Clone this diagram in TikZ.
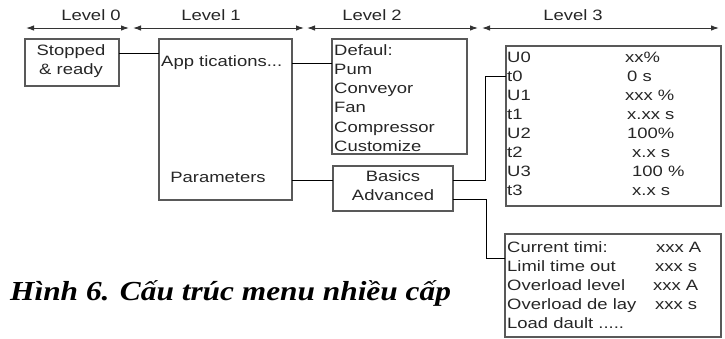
\documentclass[tikz,border=0pt]{standalone}
\usepackage{fontspec}
\setmainfont{Liberation Sans}
\newfontfamily\boxfont[FakeStretch=1.23]{Liberation Sans}
\newfontfamily\capfont[FakeStretch=1.14]{Liberation Serif}
\usetikzlibrary{arrows.meta}
\begin{document}
\begin{tikzpicture}[x=1pt,y=-1pt,
  box/.style={draw=black!65, line width=1.3pt, anchor=north west, inner sep=0pt, outer sep=0pt},
  txt/.style={font=\boxfont\fontsize{15}{19}\selectfont, text=black!85, inner sep=0pt},
  lt/.style={txt, anchor=base west},
  ct/.style={txt, anchor=base},
  conn/.style={draw=black, line width=0.9pt},
  lvl/.style={draw=black!80, line width=1pt, {Latex[length=8pt,width=5.5pt]}-{Latex[length=8pt,width=5.5pt]}}]
\useasboundingbox (0,0) rectangle (725,338);

% level arrows
\coordinate (a0l) at (26,28);  \coordinate (a0r) at (129,28);
\coordinate (a1l) at (133,28); \coordinate (a1r) at (304,28);
\coordinate (a2l) at (307,28); \coordinate (a2r) at (478,28);
\coordinate (a3l) at (482,28); \coordinate (a3r) at (719,28);
\draw[lvl] (a0l) -- (a0r);
\draw[lvl] (a1l) -- (a1r);
\draw[lvl] (a2l) -- (a2r);
\draw[lvl] (a3l) -- (a3r);
\node[ct] (lv0) at (91,20) {Level 0};
\node[ct] (lv1) at (211,20) {Level 1};
\node[ct] (lv2) at (372,20) {Level 2};
\node[ct] (lv3) at (573,20) {Level 3};

% boxes
\node[box, minimum width=94, minimum height=47] (stop) at (25,39) {};
\node[box, minimum width=133, minimum height=161] (app) at (159,39) {};
\node[box, minimum width=135, minimum height=115] (def) at (332,39) {};
\node[box, minimum width=120, minimum height=45] (bas) at (333,166) {};
\node[box, minimum width=215, minimum height=160] (l3) at (506,46) {};
\node[box, minimum width=216, minimum height=103] (adv) at (505,234) {};

% level 0 / 1 / 2 texts
\node[ct] (s1) at (71,55) {Stopped};
\node[ct] (s2) at (71,74) {\& ready};
\node[lt] (ap) at (161,66) {App tications...};
\node[ct] (pa) at (218,182) {Parameters};
\node[lt] (d1) at (334,55) {Defaul:};
\node[lt] (d2) at (334,74) {Pum};
\node[lt] (d3) at (334,93) {Conveyor};
\node[lt] (d4) at (334,112) {Fan};
\node[lt] (d5) at (334,132) {Compressor};
\node[lt] (d6) at (334,151) {Customize};
\node[ct] (b1) at (393,181) {Basics};
\node[ct] (b2) at (393,200) {Advanced};

% level 3 texts
\node[lt] (u0) at (507,62) {U0};   \node[lt] (v0) at (625,62) {xx\%};
\node[lt] (t0) at (507,81) {t0};   \node[lt] (w0) at (627,81) {0 s};
\node[lt] (u1) at (507,100) {U1};  \node[lt] (v1) at (625,100) {xxx \%};
\node[lt] (t1) at (507,119) {t1};  \node[lt] (w1) at (627,119) {x.xx s};
\node[lt] (u2) at (507,138) {U2};  \node[lt] (v2) at (627,138) {100\%};
\node[lt] (t2) at (507,157) {t2};  \node[lt] (w2) at (632,157) {x.x s};
\node[lt] (u3) at (507,176) {U3};  \node[lt] (v3) at (632,176) {100 \%};
\node[lt] (t3) at (507,195) {t3};  \node[lt] (w3) at (632,195) {x.x s};

\node[lt] (c1) at (507,252) {Current timi:};    \node[lt] (e1) at (656,252) {xxx A};
\node[lt] (c2) at (507,271) {Limil time out};   \node[lt] (e2) at (655,271) {xxx s};
\node[lt] (c3) at (507,290) {Overload level};   \node[lt] (e3) at (653,290) {xxx A};
\node[lt] (c4) at (507,309) {Overload de lay};  \node[lt] (e4) at (655,309) {xxx s};
\node[lt] (c5) at (507,328) {Load dault .....};

% connectors
\coordinate (y1) at (0,53);
\coordinate (y2) at (0,63);
\coordinate (y3) at (0,180);
\coordinate (y4) at (0,199);
\coordinate (k1) at (485,76);
\coordinate (k2) at (486,258);
\draw[conn] (stop.east |- y1) -- (app.west |- y1);
\draw[conn] (app.east |- y2) -- (def.west |- y2);
\draw[conn] (app.east |- y3) -- (bas.west |- y3);
\draw[conn] (bas.east |- y3) -| (k1) -- (l3.west |- k1);
\draw[conn] (bas.east |- y4) -| (k2) -- (adv.west |- k2);

% caption
\node[anchor=base west, inner sep=0pt, font=\capfont\bfseries\itshape\fontsize{27.5}{30}\selectfont] (cap) at (10,300) {Hình 6. Cấu trúc menu nhiều cấp};
\end{tikzpicture}
\end{document}
